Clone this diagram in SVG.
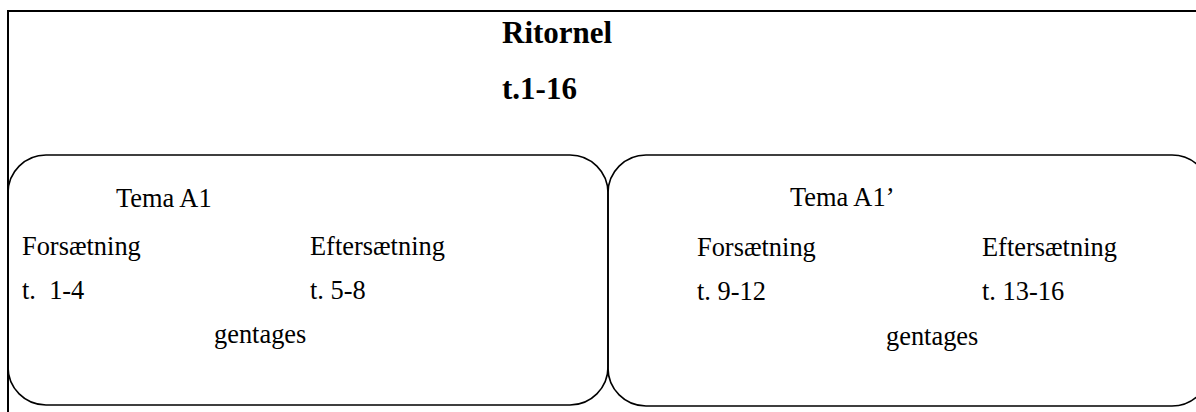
<svg xmlns="http://www.w3.org/2000/svg" width="1196" height="412" viewBox="0 0 1196 412">
  <style>
    .frame { fill: none; stroke: #000; stroke-width: 2; }
    .box { fill: none; stroke: #000; stroke-width: 1.6; }
    .title { font-family: "Liberation Serif", "Times New Roman", serif; font-weight: bold; font-size: 31px; fill: #000; }
    .lbl { font-family: "Liberation Serif", "Times New Roman", serif; font-size: 26.4px; fill: #000; }
  </style>
  <rect width="1196" height="412" fill="#fff"/>

  <!-- outer frame: ritornel section -->
  <g id="ritornel">
    <rect class="frame" x="8" y="11" width="1200" height="420"/>
    <text class="title" x="502" y="43">Ritornel</text>
    <text class="title" x="502" y="99">t.1-16</text>
  </g>

  <!-- theme A1 -->
  <g id="tema-a1">
    <rect class="box" x="8" y="155" width="600" height="250" rx="38" ry="38"/>
    <text class="lbl" x="116" y="207">Tema A1</text>
    <text class="lbl" x="22" y="255">Forsætning</text>
    <text class="lbl" x="310" y="255">Eftersætning</text>
    <text class="lbl" x="22" y="299" xml:space="preserve">t.  1-4</text>
    <text class="lbl" x="310" y="299">t. 5-8</text>
    <text class="lbl" x="214" y="343">gentages</text>
  </g>

  <!-- theme A1' -->
  <g id="tema-a1-prime">
    <rect class="box" x="608" y="155" width="602" height="251" rx="38" ry="38"/>
    <text class="lbl" x="790" y="206">Tema A1’</text>
    <text class="lbl" x="697" y="256">Forsætning</text>
    <text class="lbl" x="982" y="256">Eftersætning</text>
    <text class="lbl" x="697" y="300">t. 9-12</text>
    <text class="lbl" x="982" y="300">t. 13-16</text>
    <text class="lbl" x="886" y="345">gentages</text>
  </g>

  <g id="connectors"/>
</svg>
